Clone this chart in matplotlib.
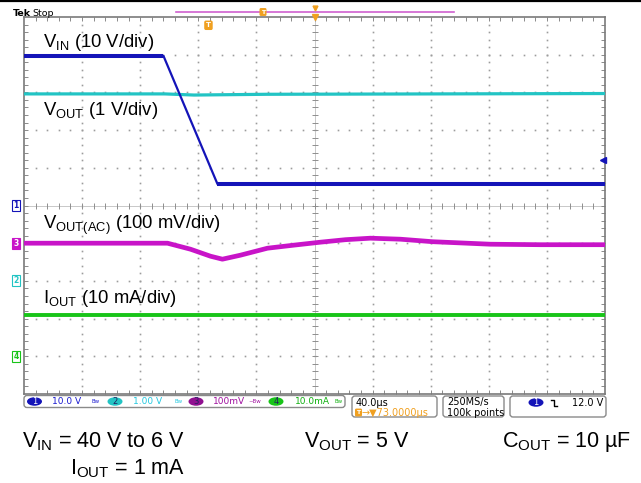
import numpy as np
import matplotlib
matplotlib.use('Agg')
import matplotlib.pyplot as plt
from matplotlib.patches import FancyBboxPatch, Ellipse
from matplotlib.lines import Line2D

plt.rcParams['font.family'] = ['Liberation Sans', 'DejaVu Sans']
plt.rcParams['mathtext.default'] = 'regular'

W, H = 641, 483

# ---------------- scope settings ----------------
time_per_div = 40.0      # µs/div
trigger_delay = 73.0     # µs, trigger -> screen centre
ch_scale = {'1': 10.0, '2': 1.0, '3': 100.0, '4': 10.0}   # V, V, mV, mA per div
ch_pos = {'1': 0.0, '2': -2.0, '3': -1.0, '4': -4.0}      # div
trig_level = 12.0        # V on CH1

# ---------------- waveform data ----------------
t_vin = [-127.0, -31.0, 6.2, 273.0]
v_vin = [39.7, 39.7, 5.7, 5.7]

t_vout = [-127.0, -30.0, -10.0, 40.0, 273.0]
v_vout = [4.96, 4.96, 4.93, 4.95, 4.97]

t_vac = [-127.0, -28.2, -12.4, 1.4, 9.6, 22.0, 40.6, 58.5, 77.1, 94.3,
         111.5, 132.2, 154.2, 194.1, 228.6, 273.0]
v_vac = [0.0, 0.0, -15.9, -34.5, -42.4, -31.8, -13.3, -5.3, 2.7, 9.3,
         13.3, 10.6, 4.0, -2.7, -4.0, -4.0]

t_iout = [-127.0, 273.0]
i_iout = [10.9, 10.9]

labels = [r'$V_{IN}$ (10 V/div)', r'$V_{OUT}$ (1 V/div)',
          r'$V_{OUT(AC)}$ (100 mV/div)', r'$I_{OUT}$ (10 mA/div)']
label_y = [4.2, 2.4, -0.63, -2.59]

colors = {'1': '#1414b8', '2': '#22c4c4', '3': '#c814c8', '4': '#18c418'}

fig = plt.figure(figsize=(W / 100, H / 100), dpi=100)
fig.patch.set_facecolor('white')

def fx(px):
    return px / W

def fy(py):
    return 1 - py / H

# ---------------- graticule ----------------
ax = fig.add_axes([fx(24), fy(394), (605 - 24) / W, (394 - 17) / H])
x0 = trigger_delay - 5 * time_per_div
x1 = trigger_delay + 5 * time_per_div
ax.set_xlim(x0, x1)
ax.set_ylim(-5, 5)
ax.set_facecolor('white')

major_x = x0 + np.arange(1, 10) * time_per_div
minor_x = x0 + np.arange(1, 50) * time_per_div / 5
major_y = np.arange(-4, 5)
minor_y = np.arange(-24, 25) * 0.2

grid_c = '#9c9c9c'
for k, xm in enumerate(major_x):
    if k == 4:
        continue
    ax.plot(np.full_like(minor_y, xm), minor_y, ls='none', marker='s', ms=1.2,
            mew=0, color=grid_c, zorder=1)
for ym in major_y:
    if ym == 0:
        continue
    ax.plot(minor_x, np.full_like(minor_x, ym), ls='none', marker='s', ms=1.2,
            mew=0, color=grid_c, zorder=1)
# centre cross
ax.axvline(trigger_delay, color='#c8c8c8', lw=0.7, zorder=1)
ax.axhline(0, color='#c8c8c8', lw=0.7, zorder=1)
ax.plot(minor_x, np.zeros_like(minor_x), ls='none', marker='|', ms=4.5,
        mew=0.7, color='#8e8e8e', zorder=1)
ax.plot(np.full_like(minor_y, trigger_delay), minor_y, ls='none', marker='_',
        ms=4.5, mew=0.7, color='#8e8e8e', zorder=1)

ax.set_xticks(major_x)
ax.set_xticks(minor_x, minor=True)
ax.set_yticks(major_y)
ax.set_yticks(minor_y, minor=True)
ax.tick_params(which='both', direction='in', length=3, width=0.7,
               color='#8a8a8a', top=True, right=True, bottom=True, left=True,
               labelbottom=False, labelleft=False)
for s in ax.spines.values():
    s.set_color('#7a7a7a')
    s.set_linewidth(1.2)

# ---------------- traces ----------------
def to_div(vals, ch):
    return np.asarray(vals) / ch_scale[ch] + ch_pos[ch]

ax.plot(t_vac, to_div(v_vac, '3'), color=colors['3'], lw=3.4, zorder=3,
        solid_joinstyle='round')
ax.plot(t_iout, to_div(i_iout, '4'), color=colors['4'], lw=2.8, zorder=3)
ax.plot(t_vout, to_div(v_vout, '2'), color=colors['2'], lw=2.3, zorder=4)
yv = to_div(v_vin, '1')
ax.plot(t_vin, yv, color=colors['1'], lw=1.6, zorder=5)
for i in range(len(t_vin) - 1):
    if v_vin[i] == v_vin[i + 1]:
        ax.plot(t_vin[i:i + 2], yv[i:i + 2], color=colors['1'], lw=2.9,
                zorder=5, solid_capstyle='butt')

for lab, ly in zip(labels, label_y):
    ax.text(x0 + 13.4, ly, lab, fontsize=13.3, va='baseline', ha='left',
            color='black', zorder=6)

# channel ground markers
mk = {'1': ('white', colors['1'], colors['1']),
      '3': (colors['3'], colors['3'], 'white'),
      '2': ('white', colors['2'], colors['2']),
      '4': ('white', colors['4'], colors['4'])}
for ch in ['1', '3', '2', '4']:
    fc, ec, tc = mk[ch]
    ax.annotate(ch, xy=(0, ch_pos[ch]), xycoords=('axes fraction', 'data'),
                xytext=(-8, 0), textcoords='offset pixels', ha='center',
                va='center', fontsize=5.5, color=tc, family='DejaVu Sans',
                fontweight='bold', annotation_clip=False,
                bbox=dict(boxstyle='square,pad=0.12', fc=fc, ec=ec, lw=0.8))

# trigger level marker (right) and trigger marker
ax.plot([x1 - 1.5], [trig_level / ch_scale['1'] + ch_pos['1']], marker='<',
        ms=4.5, color=colors['1'], clip_on=False, zorder=6)
ax.annotate('T', xy=(0, 4.78), xycoords='data', ha='center', va='center',
            fontsize=5, color='white', fontweight='bold', family='DejaVu Sans',
            bbox=dict(boxstyle='round,pad=0.15', fc='#f0a020', ec='#f0a020'))
ax.plot([trigger_delay], [5], marker='v', ms=4.5, color='#f0a020',
        clip_on=False, zorder=6)

# ---------------- header ----------------
fig.add_artist(Line2D([0, 1], [fy(1.2), fy(1.2)], color='black', lw=1.6,
                      transform=fig.transFigure))
fig.text(fx(13), fy(16), 'Tek', fontsize=6.8, fontweight='bold',
         family='DejaVu Sans', va='baseline')
fig.text(fx(32), fy(16), 'Stop', fontsize=6.8, family='DejaVu Sans',
         va='baseline')
hdr = fig.add_axes([0, fy(20), 1, 20 / H])
hdr.set_xlim(0, W)
hdr.set_ylim(20, 0)
hdr.axis('off')
hdr.plot([176, 454], [12, 12], color='#d060d0', lw=1.2)
hdr.text(263, 12, 'T', fontsize=4.5, color='white', ha='center', va='center',
         fontweight='bold', family='DejaVu Sans',
         bbox=dict(boxstyle='round,pad=0.12', fc='#f0a020', ec='#f0a020'))
hdr.plot([315], [8], marker='v', ms=3.5, color='#f0a020')

# ---------------- status bar ----------------
sb = fig.add_axes([0, fy(420), 1, 26 / H])
sb.set_xlim(0, W)
sb.set_ylim(420, 394)
sb.axis('off')

def box(xa, xb, ya, yb):
    sb.add_patch(FancyBboxPatch((xa, ya), xb - xa, yb - ya,
                                boxstyle='round,pad=0,rounding_size=3',
                                fc='white', ec='#8a8a8a', lw=1.0))

box(24, 345, 395.5, 407.5)
box(352, 437, 396, 417)
box(443, 504, 396, 417)
box(510, 606, 396, 417)

ch_items = [('1', 34.5, '10.0 V', 52, 'Bw', 96, '#1a1ad0'),
            ('2', 115, '1.00 V', 133, 'Bw', 179, '#22c8e0'),
            ('3', 196, '100mV', 213, '~Bw', 255, '#a010a0'),
            ('4', 276, '10.0mA', 295, 'Bw', 339, '#10b010')]
for num, cx, txt, tx, sym, sx, c in ch_items:
    ecol = colors[num] if num != '3' else '#901090'
    sb.add_patch(Ellipse((cx, 401.5), 15, 8.5, fc=ecol, ec='none'))
    sb.text(cx, 401.8, num, fontsize=6, ha='center', va='center',
            color='white' if num == '1' else '#202060', family='DejaVu Sans')
    sb.text(tx, 401.8, txt, fontsize=6.5, ha='left', va='center', color=c,
            family='DejaVu Sans')
    sb.text(sx, 401.5, sym, fontsize=4, ha='center', va='center', color=c,
            family='DejaVu Sans')

sb.text(356, 402.5, '40.0µs', fontsize=7, ha='left', va='center',
        family='DejaVu Sans')
sb.text(358.5, 412.5, 'T', fontsize=4.5, ha='center', va='center',
        color='white', fontweight='bold', family='DejaVu Sans',
        bbox=dict(boxstyle='round,pad=0.12', fc='#f0a020', ec='#f0a020'))
sb.text(362, 412.5, '→▼73.0000µs', fontsize=7, ha='left', va='center',
        color='#f0a020', family='DejaVu Sans')
sb.text(447, 402.5, '250MS/s', fontsize=7, ha='left', va='center',
        family='DejaVu Sans')
sb.text(447, 412.5, '100k points', fontsize=7, ha='left', va='center',
        family='DejaVu Sans')
sb.add_patch(Ellipse((536, 402.5), 15, 8.5, fc=colors['1'], ec='none'))
sb.text(536, 402.8, '1', fontsize=6, ha='center', va='center', color='white',
        family='DejaVu Sans')
sb.plot([551, 554, 554, 557], [399.5, 399.5, 405.5, 405.5], color='black',
        lw=1.0)
sb.text(572, 402.5, f'{trig_level:.1f} V', fontsize=7, ha='left',
        va='center', family='DejaVu Sans')

# ---------------- captions ----------------
cap = 15.5
fig.text(fx(22), fy(447), r'$V_{IN}$ = 40 V to 6 V', fontsize=cap,
         va='baseline')
fig.text(fx(70), fy(474), r'$I_{OUT}$ = 1 mA', fontsize=cap, va='baseline')
fig.text(fx(304), fy(447), r'$V_{OUT}$ = 5 V', fontsize=cap, va='baseline')
fig.text(fx(502), fy(447), r'$C_{OUT}$ = 10 µF', fontsize=cap,
         va='baseline')

fig.savefig('out.png', dpi=100)
